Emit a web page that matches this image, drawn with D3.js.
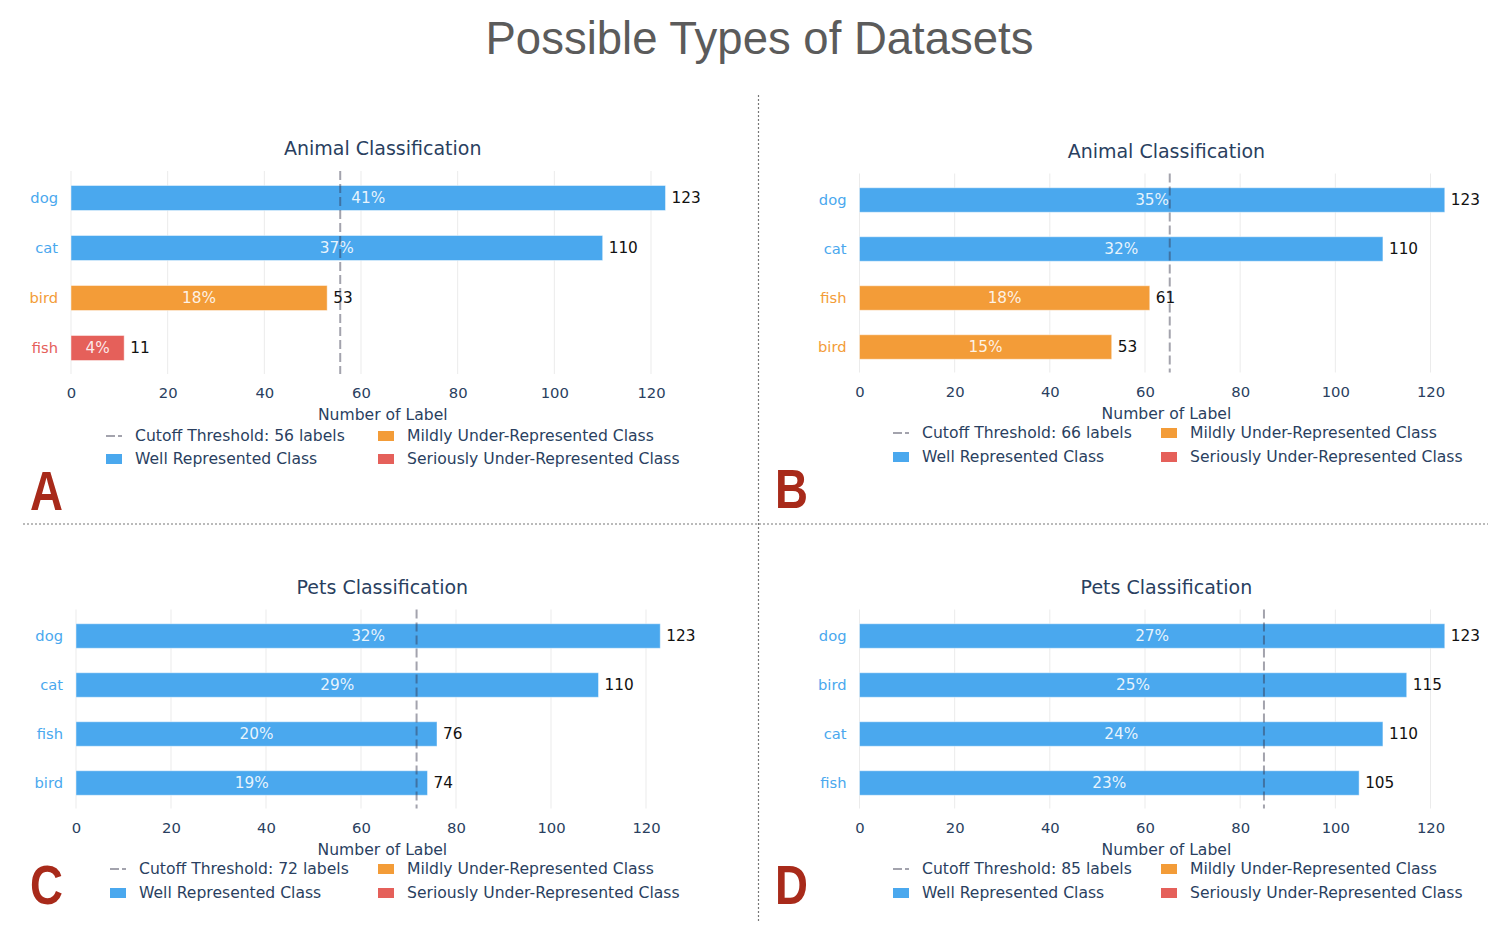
<!DOCTYPE html>
<html><head><meta charset="utf-8">
<script src="https://cdn.jsdelivr.net/npm/d3@7"></script>
<style>body{margin:0;background:#fff} svg{display:block}</style>
</head><body>
<svg id="c" width="1508" height="930"></svg>
<script>
// ---------------- data ----------------
const mainTitle = "Possible Types of Datasets";
const panelLetters = ["A", "B", "C", "D"];
const panelTitles = ["Animal Classification", "Animal Classification", "Pets Classification", "Pets Classification"];

const categoriesA = ["dog", "cat", "bird", "fish"];
const valuesA = [123, 110, 53, 11];
const percentsA = ["41%", "37%", "18%", "4%"];
const classesA = ["well", "well", "mild", "serious"];
const thresholdA = 55.7;
const cutoffTextA = "Cutoff Threshold: 56 labels";

const categoriesB = ["dog", "cat", "fish", "bird"];
const valuesB = [123, 110, 61, 53];
const percentsB = ["35%", "32%", "18%", "15%"];
const classesB = ["well", "well", "mild", "mild"];
const thresholdB = 65.2;
const cutoffTextB = "Cutoff Threshold: 66 labels";

const categoriesC = ["dog", "cat", "fish", "bird"];
const valuesC = [123, 110, 76, 74];
const percentsC = ["32%", "29%", "20%", "19%"];
const classesC = ["well", "well", "well", "well"];
const thresholdC = 71.7;
const cutoffTextC = "Cutoff Threshold: 72 labels";

const categoriesD = ["dog", "bird", "cat", "fish"];
const valuesD = [123, 115, 110, 105];
const percentsD = ["27%", "25%", "24%", "23%"];
const classesD = ["well", "well", "well", "well"];
const thresholdD = 85.0;
const cutoffTextD = "Cutoff Threshold: 85 labels";

const xTicks = [0, 20, 40, 60, 80, 100, 120];
const xDomainMax = 129;
const axisTitle = "Number of Label";
const legendWell = "Well Represented Class";
const legendMild = "Mildly Under-Represented Class";
const legendSerious = "Seriously Under-Represented Class";

// ---------------- styles / layout ----------------
const classColor = { well: "#4aa8ee", mild: "#f39c38", serious: "#e5605a" };
const inkColor = "#2a3f5f";
const font = "'DejaVu Sans', Verdana, sans-serif";

const panels = [
  { cats: categoriesA, vals: valuesA, pcts: percentsA, cls: classesA, thr: thresholdA, cut: cutoffTextA,
    x0: 71, x120: 651, top: 173, band: 50, titleY: 148, tickY: 393, axisY: 415, legY: [436, 459], legX: [106, 378], letX: 30, letY: 510 },
  { cats: categoriesB, vals: valuesB, pcts: percentsB, cls: classesB, thr: thresholdB, cut: cutoffTextB,
    x0: 859.5, x120: 1430.5, top: 175.5, band: 49, titleY: 151, tickY: 392, axisY: 414, legY: [433, 457], legX: [893, 1161], letX: 775, letY: 508 },
  { cats: categoriesC, vals: valuesC, pcts: percentsC, cls: classesC, thr: thresholdC, cut: cutoffTextC,
    x0: 76, x120: 646, top: 611.5, band: 49, titleY: 587, tickY: 828, axisY: 850, legY: [869, 893], legX: [110, 378], letX: 30, letY: 904 },
  { cats: categoriesD, vals: valuesD, pcts: percentsD, cls: classesD, thr: thresholdD, cut: cutoffTextD,
    x0: 859.5, x120: 1430.5, top: 611.5, band: 49, titleY: 587, tickY: 828, axisY: 850, legY: [869, 893], legX: [893, 1161], letX: 775, letY: 904 }
];

const svg = d3.select("#c");

// main title
svg.append("text").attr("x", 759.5).attr("y", 54).attr("text-anchor", "middle")
  .attr("font-family", "'Liberation Sans', Arial, sans-serif").attr("font-size", 45.5)
  .attr("fill", "#5b5b5b").text(mainTitle);

// dividers
svg.append("line").attr("x1", 23).attr("x2", 1488).attr("y1", 524).attr("y2", 524)
  .attr("stroke", "#777").attr("stroke-width", 1.2).attr("stroke-dasharray", "2,2");
svg.append("line").attr("x1", 758.5).attr("x2", 758.5).attr("y1", 95).attr("y2", 922)
  .attr("stroke", "#777").attr("stroke-width", 1.2).attr("stroke-dasharray", "2,2");

panels.forEach((p, i) => {
  const g = svg.append("g");
  const unit = (p.x120 - p.x0) / 120;
  const x = d3.scaleLinear().domain([0, xDomainMax]).range([p.x0, p.x0 + unit * xDomainMax]);
  const y = d3.scaleBand().domain(p.cats).range([p.top, p.top + p.band * p.cats.length]).paddingInner(0.5).paddingOuter(0.25);
  const bottom = p.top + p.band * p.cats.length;

  // panel title
  g.append("text").attr("x", (x.range()[0] + x.range()[1]) / 2).attr("y", p.titleY)
    .attr("text-anchor", "middle").attr("dominant-baseline", "central")
    .attr("font-family", font).attr("font-size", 19).attr("fill", inkColor).text(panelTitles[i]);

  // gridlines
  g.selectAll(".grid").data(xTicks).enter().append("line")
    .attr("x1", d => x(d)).attr("x2", d => x(d)).attr("y1", p.top - 2).attr("y2", bottom + 1)
    .attr("stroke", "#ebebeb").attr("stroke-width", 1);

  // x axis (labels only)
  const xAxis = d3.axisBottom(x).tickValues(xTicks).tickSize(0).tickPadding(0);
  const ax = g.append("g").attr("transform", `translate(0,${p.tickY})`).call(xAxis);
  ax.select(".domain").remove();
  ax.selectAll("text").attr("dy", "0.35em").attr("y", 0)
    .attr("font-family", font).attr("font-size", 14.8).attr("fill", inkColor);

  // y axis labels
  const yAxis = d3.axisLeft(y).tickSize(0).tickPadding(13);
  const ay = g.append("g").attr("transform", `translate(${p.x0},0)`).call(yAxis);
  ay.select(".domain").remove();
  ay.selectAll("text").attr("font-family", font).attr("font-size", 14.7)
    .attr("fill", (d, j) => classColor[p.cls[p.cats.indexOf(d)]]);

  // bars
  g.selectAll(".bar").data(p.cats).enter().append("rect")
    .attr("x", x(0)).attr("y", d => y(d))
    .attr("width", (d, j) => x(p.vals[j]) - x(0)).attr("height", y.bandwidth())
    .attr("fill", (d, j) => classColor[p.cls[j]])
    .attr("stroke", "rgba(255,255,255,0.45)").attr("stroke-width", 1);

  // percent labels
  g.selectAll(".pct").data(p.cats).enter().append("text")
    .attr("x", (d, j) => (x(0) + x(p.vals[j])) / 2).attr("y", d => y(d) + y.bandwidth() / 2)
    .attr("text-anchor", "middle").attr("dominant-baseline", "central")
    .attr("font-family", font).attr("font-size", 15.3).attr("fill", "#fff").attr("fill-opacity", 0.88)
    .text((d, j) => p.pcts[j]);

  // value labels
  g.selectAll(".val").data(p.cats).enter().append("text")
    .attr("x", (d, j) => x(p.vals[j]) + 6).attr("y", d => y(d) + y.bandwidth() / 2)
    .attr("dominant-baseline", "central")
    .attr("font-family", font).attr("font-size", 15.3).attr("fill", "#111")
    .text((d, j) => p.vals[j]);

  // threshold line
  g.append("line").attr("x1", x(p.thr)).attr("x2", x(p.thr)).attr("y1", p.top - 2).attr("y2", bottom + 1)
    .attr("stroke", "#32324a").attr("stroke-opacity", 0.45).attr("stroke-width", 2).attr("stroke-dasharray", "9,4");

  // axis title
  g.append("text").attr("x", (x.range()[0] + x.range()[1]) / 2).attr("y", p.axisY)
    .attr("text-anchor", "middle").attr("dominant-baseline", "central")
    .attr("font-family", font).attr("font-size", 15.6).attr("fill", inkColor).text(axisTitle);

  // legend
  const items = [
    { type: "line", label: p.cut, col: 0, row: 0 },
    { type: "well", label: legendWell, col: 0, row: 1 },
    { type: "mild", label: legendMild, col: 1, row: 0 },
    { type: "serious", label: legendSerious, col: 1, row: 1 }
  ];
  items.forEach(it => {
    const lx = p.legX[it.col], ly = p.legY[it.row];
    if (it.type === "line") {
      g.append("line").attr("x1", lx).attr("x2", lx + 17).attr("y1", ly).attr("y2", ly)
        .attr("stroke", "#32324a").attr("stroke-opacity", 0.45).attr("stroke-width", 2).attr("stroke-dasharray", "9,3,4,3");
    } else {
      g.append("rect").attr("x", lx).attr("y", ly - 5).attr("width", 16).attr("height", 10)
        .attr("fill", classColor[it.type]);
    }
    g.append("text").attr("x", lx + 29).attr("y", ly).attr("dominant-baseline", "central")
      .attr("font-family", font).attr("font-size", 15.6).attr("fill", inkColor).text(it.label);
  });

  // panel letter
  g.append("text").attr("transform", `translate(${p.letX},${p.letY}) scale(0.83,1)`)
    .attr("font-family", "'Liberation Sans', Arial, sans-serif").attr("font-weight", "bold")
    .attr("font-size", 55).attr("fill", "#a82a1a").text(panelLetters[i]);
});
</script>
</body></html>
